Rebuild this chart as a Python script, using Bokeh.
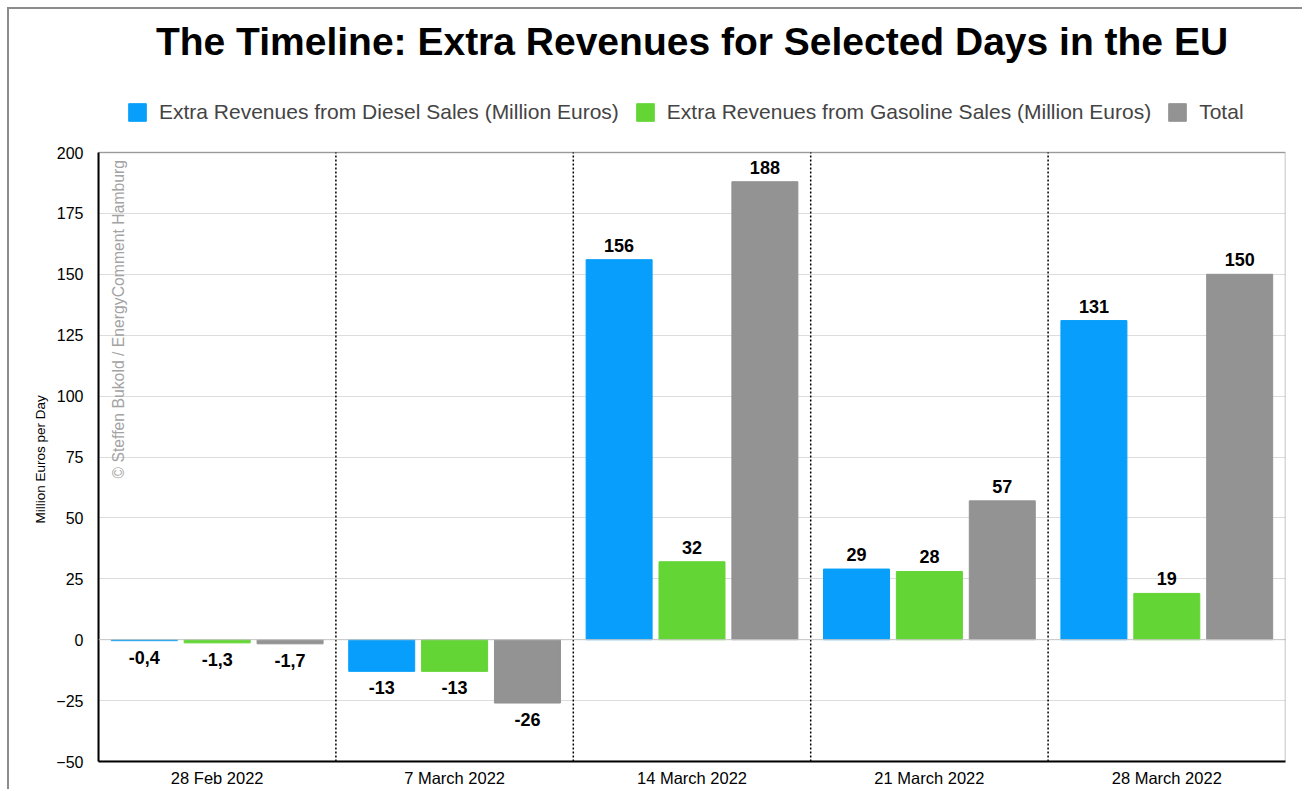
from bokeh.plotting import figure
from bokeh.models import (ColumnDataSource, FixedTicker, Span, Legend, LegendItem,
                          Label, BoxAnnotation, Title)
from bokeh.transform import dodge
from bokeh.core.properties import value
from bokeh.embed import file_html
from bokeh.resources import INLINE

# ---- data ----
dates = ["28 Feb 2022", "7 March 2022", "14 March 2022", "21 March 2022", "28 March 2022"]
diesel = [-0.4, -13, 156, 29, 131]
gasoline = [-1.3, -13, 32, 28, 19]
total = [-1.7, -26, 188, 57, 150]
series_names = ["Extra Revenues from Diesel Sales (Million Euros)",
                "Extra Revenues from Gasoline Sales (Million Euros)",
                "Total"]
y_ticks = [-50, -25, 0, 25, 50, 75, 100, 125, 150, 175, 200]

# ---- styles ----
COLORS = ["#079ffb", "#63d535", "#939393"]
FONT = "Liberation Sans"
BAR_W = 0.278
OFFS = [-0.307, 0.0, 0.307]
NAN = float("nan")

W, H = 1295, 782
ML, MR, MB = 89, 19, 30
BOX_PX = 609          # pixel height of the value box (-50..200)
FRAME_PX = H - MB     # frame covers everything above the x axis
Y0, Y1 = y_ticks[0], y_ticks[-1]
Y_TOP = Y0 + (Y1 - Y0) * FRAME_PX / BOX_PX


def fmt(v):
    if float(v).is_integer():
        return str(int(v))
    return f"{v:.1f}".replace(".", ",")


xc = [i + 0.5 for i in range(len(dates))]

p = figure(width=W, height=H, output_backend="svg", toolbar_location=None,
           x_range=(0, len(dates)), y_range=(Y0, Y_TOP),
           min_border_left=ML, min_border_right=MR, min_border_top=0,
           min_border_bottom=MB)
p.styles = {"border-left": "2px solid #8c8c8c", "border-top": "2px solid #8c8c8c",
            "margin-left": "7px", "margin-top": "7px"}

p.outline_line_color = None
p.background_fill_color = "white"
p.border_fill_color = "white"

p.xgrid.visible = False
p.ygrid.grid_line_color = "#dddddd"
p.ygrid.grid_line_width = 1
p.yaxis.ticker = FixedTicker(ticks=y_ticks)
p.yaxis.bounds = (Y0, Y1)
p.xaxis.ticker = FixedTicker(ticks=xc)
p.xaxis.major_label_overrides = {x: d for x, d in zip(xc, dates)}

for ax in (p.xaxis[0], p.yaxis[0]):
    ax.major_tick_line_color = None
    ax.minor_tick_line_color = None
    ax.major_tick_in = 0
    ax.major_tick_out = 0
    ax.axis_line_color = "black"
    ax.axis_line_width = 2
    ax.major_label_text_font = FONT
    ax.major_label_text_color = "black"

p.xaxis.major_label_text_font_size = "16.5px"
p.xaxis.major_label_standoff = 7
p.yaxis.major_label_text_font_size = "16px"
p.yaxis.major_label_standoff = 15

# y axis title on the left, centred on the value box
ytitle = Title(text="Million Euros per Day", align="left", offset=238,
               text_font=FONT, text_font_size="13.5px", text_font_style="normal",
               text_color="black", standoff=12)
p.add_layout(ytitle, "left")

# zero line
p.add_layout(Span(location=0, dimension="width", line_color="#c8c8c8", line_width=1))

# group dividers
div_x = list(range(1, len(dates)))
p.segment(x0=div_x, x1=div_x, y0=[Y0] * len(div_x), y1=[Y1] * len(div_x),
          line_color="black", line_width=1.5, line_dash="2 2")

# plot box outline
p.add_layout(BoxAnnotation(left=0, right=len(dates), bottom=Y0, top=Y1,
                           fill_alpha=0, line_color="black", line_width=1.5,
                           level="overlay"))

items = []
for vals, name, color, off in zip([diesel, gasoline, total], series_names, COLORS, OFFS):
    src = ColumnDataSource(dict(
        x=xc, top=vals, label=[fmt(v) for v in vals],
        ypos=[v if v >= 0 else NAN for v in vals],
        yneg=[v if v < 0 else NAN for v in vals]))
    r = p.vbar(x=dodge("x", off, range=p.x_range), top="top", bottom=0, width=BAR_W,
               source=src, fill_color=color, line_color=color)
    items.append(LegendItem(label=name, renderers=[r]))
    p.text(x=dodge("x", off, range=p.x_range), y="ypos", text="label", source=src,
           text_align="center", text_baseline="bottom", y_offset=-8,
           text_font=value(FONT), text_font_style="bold", text_font_size="18px",
           text_color="black")
    p.text(x=dodge("x", off, range=p.x_range), y="yneg", text="label", source=src,
           text_align="center", text_baseline="top", y_offset=10,
           text_font=value(FONT), text_font_style="bold", text_font_size="18px",
           text_color="black")

legend = Legend(items=items, orientation="horizontal", location=(28, 637),
                glyph_width=22, glyph_height=22, label_height=22, spacing=15,
                label_standoff=11, padding=0, margin=0,
                label_text_font=FONT, label_text_font_size="21px",
                border_line_color=None, background_fill_alpha=0)
p.add_layout(legend, "center")

# title
p.add_layout(Label(x=593.5, y=FRAME_PX - 32, x_units="screen", y_units="screen",
                   text="The Timeline: Extra Revenues for Selected Days in the EU",
                   text_align="center", text_baseline="middle",
                   text_font=FONT, text_font_style="bold", text_font_size="39px",
                   text_color="black"))

# watermark
p.add_layout(Label(x=20, y=283, x_units="screen", y_units="screen", angle=1.5708,
                   text="\u00a9 Steffen Bukold / EnergyComment Hamburg",
                   text_align="left", text_baseline="middle",
                   text_font=FONT, text_font_size="15.75px", text_color="#a3a3a3"))

open("out.html", "w").write(file_html(p, INLINE))
